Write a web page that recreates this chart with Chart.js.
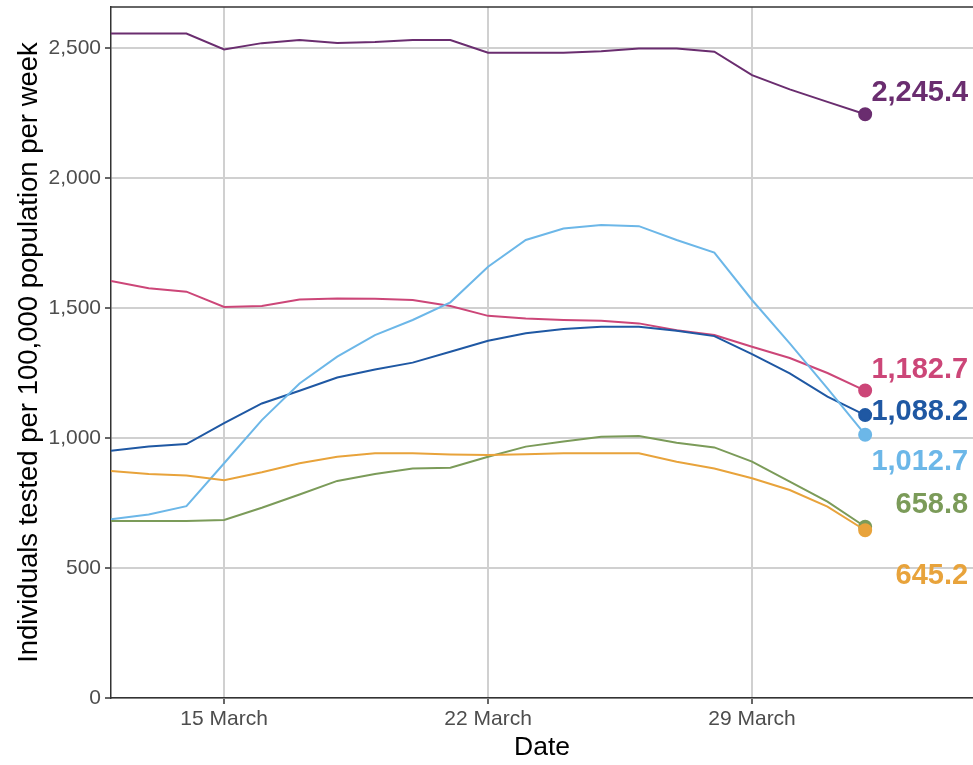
<!DOCTYPE html>
<html><head><meta charset="utf-8">
<script src="https://cdn.jsdelivr.net/npm/chart.js@4/dist/chart.umd.min.js"></script>
<style>html,body{margin:0;padding:0;background:#fff}#wrap{width:973px;height:765px}</style>
</head><body><div id="wrap"><canvas id="c" width="973" height="765"></canvas></div>
<script>
// Day of March (32 = 1 April)
const days = [12,13,14,15,16,17,18,19,20,21,22,23,24,25,26,27,28,29,30,31,32];
const tickDays = [15,22,29];
const tickLabels = ["15 March","22 March","29 March"];
const yTicks = [0,500,1000,1500,2000,2500];
const purpleSeries = [2556,2556,2556,2495,2519,2531,2520,2523,2531,2531,2482,2482,2482,2488,2498,2498,2486,2396,2341,2293,2245.4];
const pinkSeries = [1604,1576,1563,1504,1508,1533,1537,1536,1531,1508,1470,1460,1454,1451,1441,1415,1396,1351,1308,1250,1182.7];
const darkBlueSeries = [951,967,977,1057,1133,1182,1233,1264,1290,1332,1374,1403,1419,1428,1428,1413,1392,1323,1249,1159,1088.2];
const lightBlueSeries = [688,706,738,903,1069,1210,1313,1396,1454,1522,1659,1762,1806,1819,1815,1762,1713,1531,1364,1191,1012.7];
const greenSeries = [681,681,681,685,732,783,835,862,883,886,928,967,987,1005,1008,982,964,909,832,755,658.8];
const orangeSeries = [873,862,856,838,868,903,928,941,941,937,935,938,941,941,941,909,883,845,800,736,645.2];

const seriesList = [
  {data: orangeSeries, color: '#e8a33b', dy: 46},
  {data: greenSeries, color: '#7b9b59', dy: -22},
  {data: lightBlueSeries, color: '#6cb7e8', dy: 27},
  {data: darkBlueSeries, color: '#1f58a3', dy: -3},
  {data: pinkSeries, color: '#cc4678', dy: -21},
  {data: purpleSeries, color: '#6a2d6f', dy: -21}
];

const fmt = v => v.toLocaleString('en-US', {minimumFractionDigits: 1, maximumFractionDigits: 1});
const FONT = '"Liberation Sans", Arial, sans-serif';

const datasets = seriesList.map(s => ({
  data: days.map((d, i) => ({x: d, y: s.data[i]})),
  borderColor: s.color,
  backgroundColor: s.color,
  borderWidth: 2,
  tension: 0,
  pointRadius: ctx => ctx.dataIndex === days.length - 1 ? 6 : 0,
  pointHoverRadius: 0,
  labelDy: s.dy
}));

const endLabels = {
  id: 'endLabels',
  afterDatasetsDraw(chart) {
    const ctx = chart.ctx;
    ctx.save();
    ctx.font = 'bold 29px ' + FONT;
    ctx.textAlign = 'right';
    ctx.textBaseline = 'middle';
    chart.data.datasets.forEach((ds, i) => {
      const meta = chart.getDatasetMeta(i);
      const pt = meta.data[meta.data.length - 1];
      const val = ds.data[ds.data.length - 1].y;
      ctx.fillStyle = ds.borderColor;
      ctx.fillText(fmt(val), pt.x + 103, pt.y + ds.labelDy);
    });
    ctx.restore();
  }
};

const frame = {
  id: 'frame',
  afterDraw(chart) {
    const a = chart.chartArea, ctx = chart.ctx;
    ctx.save();
    ctx.strokeStyle = '#333';
    ctx.lineWidth = 1.5;
    ctx.beginPath();
    ctx.moveTo(a.left, a.top);
    ctx.lineTo(a.right, a.top);
    ctx.stroke();
    ctx.restore();
  }
};

new Chart(document.getElementById('c'), {
  type: 'line',
  data: {datasets},
  options: {
    responsive: false,
    animation: false,
    events: [],
    layout: {autoPadding: false, padding: {top: 7, right: 0, left: 0, bottom: 0}},
    plugins: {legend: {display: false}, tooltip: {enabled: false}},
    scales: {
      x: {
        type: 'linear',
        min: 12,
        max: 34.86,
        afterBuildTicks: scale => { scale.ticks = tickDays.map(v => ({value: v})); },
        afterFit: scale => { scale.height = 67; scale.paddingLeft = 0; scale.paddingRight = 0; },
        ticks: {
          callback: (v) => { const k = tickDays.indexOf(v); return k >= 0 ? tickLabels[k] : ''; },
          color: '#4d4d4d',
          font: {family: FONT, size: 21},
          padding: 3,
          maxRotation: 0,
          autoSkip: false
        },
        grid: {color: '#d0d0d0', lineWidth: 2, tickColor: '#333', tickLength: 6, tickWidth: 1.5},
        border: {display: true, color: '#333', width: 1.5},
        title: {display: true, text: 'Date', color: '#000',
          font: {family: FONT, size: 26.5}, padding: {top: 0, bottom: 1}}
      },
      y: {
        min: 0,
        max: 2658,
        afterBuildTicks: scale => { scale.ticks = yTicks.map(v => ({value: v})); },
        afterFit: scale => { scale.width = 111; scale.paddingTop = 0; scale.paddingBottom = 0; },
        ticks: {
          callback: v => v.toLocaleString('en-US'),
          color: '#4d4d4d',
          font: {family: FONT, size: 21},
          padding: 4
        },
        grid: {color: '#d0d0d0', lineWidth: 2, tickColor: '#333', tickLength: 6, tickWidth: 1.5},
        border: {display: true, color: '#333', width: 1.5},
        title: {display: true, text: 'Individuals tested per 100,000 population per week', color: '#000',
          font: {family: FONT, size: 27.5}, padding: {top: 13, bottom: 0}}
      }
    }
  },
  plugins: [endLabels, frame]
});
</script>
</body></html>
